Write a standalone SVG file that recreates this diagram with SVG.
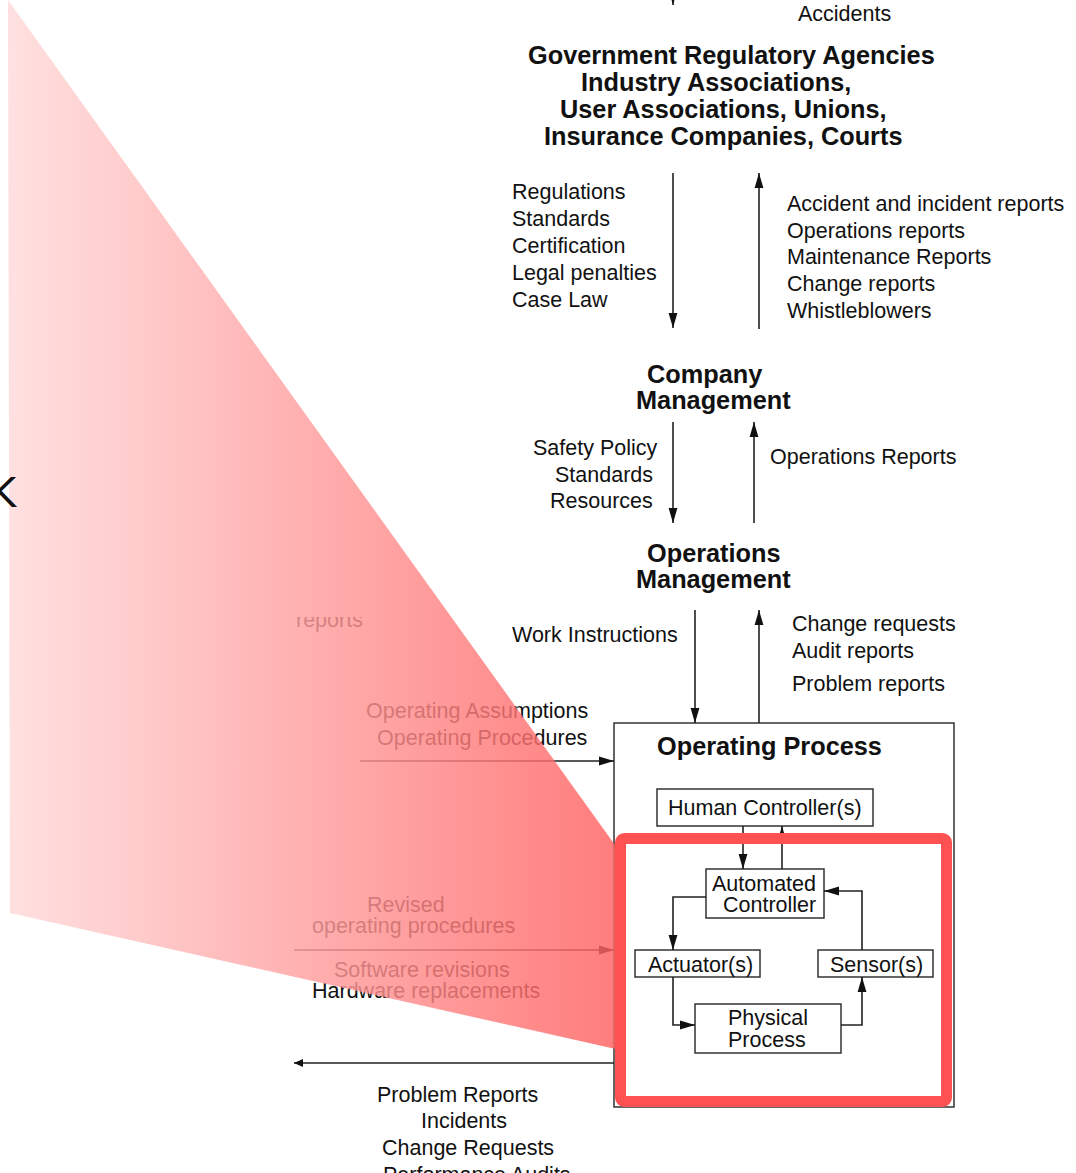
<svg xmlns="http://www.w3.org/2000/svg" width="1076" height="1173" viewBox="0 0 1076 1173">
<style>
text{font-family:"Liberation Sans",Arial,Helvetica,sans-serif;fill:#111;}
.r{font-size:21.5px;}
.b{font-size:25.3px;font-weight:bold;}
.box{fill:#fff;stroke:#333;stroke-width:1.5;}
.ln{fill:none;stroke:#222;stroke-width:1.6;}
</style>
<defs>
<marker id="ah" markerUnits="userSpaceOnUse" markerWidth="16" markerHeight="10" refX="15" refY="5" orient="auto"><path d="M0,0.6 L15,5 L0,9.4 z" fill="#111"/></marker>
<marker id="ahs" markerUnits="userSpaceOnUse" markerWidth="10" markerHeight="9" refX="9" refY="4.5" orient="auto"><path d="M0,0.5 L9,4.5 L0,8.5 z" fill="#111"/></marker>
<linearGradient id="callout" gradientUnits="userSpaceOnUse" x1="10" y1="0" x2="620" y2="0">
<stop offset="0" stop-color="#ffd9d9"/>
<stop offset="1" stop-color="#ff6060"/>
</linearGradient>
<clipPath id="clipRep"><rect x="280" y="617" width="100" height="20"/></clipPath>
</defs>

<rect width="1076" height="1173" fill="#fff"/>

<g id="fragment-reports" clip-path="url(#clipRep)"><text class="r" x="296" y="627">reports</text></g>

<g id="node-top"><text class="r" x="798" y="21">Accidents</text></g>

<g id="node-government">
<text class="b" x="528" y="64">Government Regulatory Agencies</text>
<text class="b" x="581" y="91">Industry Associations,</text>
<text class="b" x="560" y="118">User Associations, Unions,</text>
<text class="b" x="544" y="145">Insurance Companies, Courts</text>
</g>

<g id="labels-gov-company">
<text class="r" x="512" y="199">Regulations</text>
<text class="r" x="512" y="226">Standards</text>
<text class="r" x="512" y="253">Certification</text>
<text class="r" x="512" y="280">Legal penalties</text>
<text class="r" x="512" y="307">Case Law</text>
<text class="r" x="787" y="211">Accident and incident reports</text>
<text class="r" x="787" y="238">Operations reports</text>
<text class="r" x="787" y="264">Maintenance Reports</text>
<text class="r" x="787" y="291">Change reports</text>
<text class="r" x="787" y="318">Whistleblowers</text>
</g>

<g id="node-company">
<text class="b" x="647" y="383">Company</text>
<text class="b" x="636" y="409">Management</text>
</g>

<g id="labels-company-ops">
<text class="r" x="533" y="455">Safety Policy</text>
<text class="r" x="555" y="482">Standards</text>
<text class="r" x="550" y="508">Resources</text>
<text class="r" x="770" y="464">Operations Reports</text>
</g>

<g id="node-operations">
<text class="b" x="647" y="562">Operations</text>
<text class="b" x="636" y="588">Management</text>
</g>

<g id="labels-ops-process">
<text class="r" x="512" y="642">Work Instructions</text>
<text class="r" x="792" y="631">Change requests</text>
<text class="r" x="792" y="658">Audit reports</text>
<text class="r" x="792" y="691">Problem reports</text>
<text class="r" x="366" y="718">Operating Assumptions</text>
<text class="r" x="377" y="745">Operating Procedures</text>
<text class="r" x="367" y="912">Revised</text>
<text class="r" x="312" y="933">operating procedures</text>
<text class="r" x="334" y="977">Software revisions</text>
<text class="r" x="312" y="998">Hardware replacements</text>
<text class="r" x="377" y="1102">Problem Reports</text>
<text class="r" x="421" y="1128">Incidents</text>
<text class="r" x="382" y="1155">Change Requests</text>
<text class="r" x="383" y="1182">Performance Audits</text>
</g>

<g id="node-operating-process">
<rect class="box" x="614" y="723" width="340" height="384"/>
<text class="b" x="657" y="755">Operating Process</text>
</g>
<g id="node-human-controller">
<rect class="box" x="657" y="789" width="216" height="37"/>
<text class="r" x="668" y="815">Human Controller(s)</text>
</g>
<g id="node-automated-controller">
<rect class="box" x="706" y="869" width="118" height="49"/>
<text class="r" x="712" y="891">Automated</text>
<text class="r" x="723" y="912">Controller</text>
</g>
<g id="node-actuator">
<rect class="box" x="635" y="950" width="125" height="27"/>
<text class="r" x="648" y="972">Actuator(s)</text>
</g>
<g id="node-sensor">
<rect class="box" x="818" y="950" width="115" height="27"/>
<text class="r" x="830" y="972">Sensor(s)</text>
</g>
<g id="node-physical-process">
<rect class="box" x="695" y="1004" width="146" height="49"/>
<text class="r" x="728" y="1025">Physical</text>
<text class="r" x="728" y="1047">Process</text>
</g>

<g id="connectors">
<line class="ln" x1="673" y1="-30" x2="673" y2="5" marker-end="url(#ah)"/>
<line class="ln" x1="673" y1="173" x2="673" y2="328" marker-end="url(#ah)"/>
<line class="ln" x1="759" y1="329" x2="759" y2="173" marker-end="url(#ah)"/>
<line class="ln" x1="673" y1="422" x2="673" y2="523" marker-end="url(#ah)"/>
<line class="ln" x1="754" y1="523" x2="754" y2="422" marker-end="url(#ah)"/>
<line class="ln" x1="695" y1="610" x2="695" y2="723" marker-end="url(#ah)"/>
<line class="ln" x1="759" y1="723" x2="759" y2="610" marker-end="url(#ah)"/>
<line class="ln" x1="360" y1="761" x2="614" y2="761" marker-end="url(#ah)"/>
<line class="ln" x1="294" y1="950" x2="614" y2="950" marker-end="url(#ah)"/>
<line class="ln" x1="614" y1="1063" x2="294" y2="1063" marker-end="url(#ahs)"/>
<line class="ln" x1="743" y1="826" x2="743" y2="869" marker-end="url(#ah)"/>
<line class="ln" x1="782" y1="869" x2="782" y2="826" marker-end="url(#ah)"/>
<polyline class="ln" points="706,897 673,897 673,950" marker-end="url(#ah)"/>
<polyline class="ln" points="862,950 862,891 824,891" marker-end="url(#ah)"/>
<polyline class="ln" points="673,977 673,1025 695,1025" marker-end="url(#ah)"/>
<polyline class="ln" points="841,1025 862,1025 862,977" marker-end="url(#ah)"/>
</g>

<g id="highlight">
<polygon points="8,0 620,852 620,1050 10,913" fill="url(#callout)" fill-opacity="0.82"/>
<rect x="620.5" y="838.5" width="326" height="263" rx="4" ry="4" fill="none" stroke="#fe5151" stroke-width="11"/>
</g>

<g id="fragment-k"><text x="-10" y="507" style="font-family:'DejaVu Sans',sans-serif;font-size:40px">K</text></g>
</svg>
